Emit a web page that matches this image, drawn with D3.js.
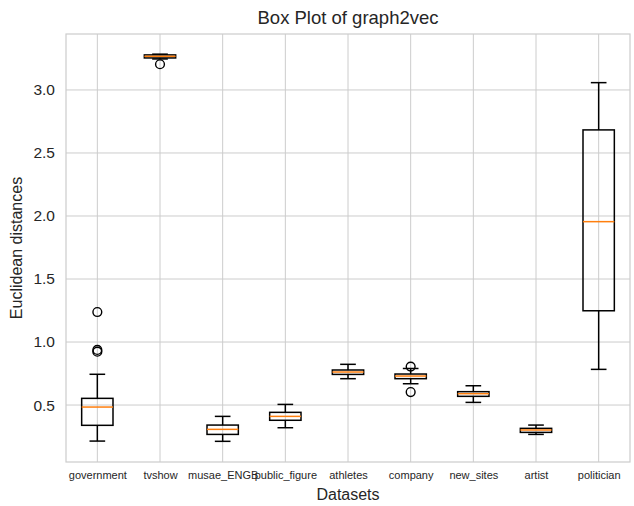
<!DOCTYPE html>
<html>
<head>
<meta charset="utf-8">
<script src="https://cdn.jsdelivr.net/npm/d3@7"></script>
<style>
  html, body { margin: 0; padding: 0; background: #fff; }
  svg { display: block; font-family: "Liberation Sans", Arial, sans-serif; }
</style>
</head>
<body>
<svg id="chart" width="634" height="506"></svg>
<script>
// Box statistics of Euclidean distances per dataset
const categories = ["government", "tvshow", "musae_ENGB", "public_figure", "athletes",
                    "company", "new_sites", "artist", "politician"];
const whiskerLow  = [0.214, 3.246, 0.212, 0.320, 0.709, 0.669, 0.521, 0.267, 0.783];
const q1          = [0.339, 3.254, 0.267, 0.379, 0.743, 0.709, 0.569, 0.283, 1.248];
const medians     = [0.484, 3.267, 0.307, 0.410, 0.762, 0.730, 0.590, 0.302, 1.955];
const q3          = [0.553, 3.278, 0.341, 0.442, 0.778, 0.746, 0.606, 0.315, 2.683];
const whiskerHigh = [0.744, 3.284, 0.410, 0.505, 0.823, 0.790, 0.653, 0.341, 3.058];
const outliers    = [[0.923, 0.937, 1.238], [3.204], [], [], [], [0.603, 0.805], [], [], []];
const yTicks = [0.5, 1.0, 1.5, 2.0, 2.5, 3.0];

const svg = d3.select("#chart");
const margin = { left: 66, right: 4, top: 34, bottom: 44 };
const W = 634, H = 506;
const plotW = W - margin.left - margin.right;
const plotH = H - margin.top - margin.bottom;

const x = d3.scaleLinear().domain([0.5, categories.length + 0.5]).range([margin.left, margin.left + plotW]);
const y = d3.scaleLinear().domain([0.048, 3.444]).range([margin.top + plotH, margin.top]);

const gridColor = "#cccccc";
const textColor = "#262626";
const g = svg.append("g");

// grid lines
g.append("g").selectAll("line.h").data(yTicks).join("line")
  .attr("x1", margin.left).attr("x2", margin.left + plotW)
  .attr("y1", d => y(d)).attr("y2", d => y(d))
  .attr("stroke", gridColor).attr("stroke-width", 1);
g.append("g").selectAll("line.v").data(categories).join("line")
  .attr("x1", (d, i) => x(i + 1)).attr("x2", (d, i) => x(i + 1))
  .attr("y1", margin.top).attr("y2", margin.top + plotH)
  .attr("stroke", gridColor).attr("stroke-width", 1);

// frame
g.append("rect")
  .attr("x", margin.left).attr("y", margin.top)
  .attr("width", plotW).attr("height", plotH)
  .attr("fill", "none").attr("stroke", gridColor).attr("stroke-width", 1.2);

// y axis labels
const yAxis = d3.axisLeft(y).tickValues(yTicks).tickFormat(d3.format(".1f")).tickSize(0).tickPadding(11);
const ya = svg.append("g").attr("transform", `translate(${margin.left},0)`).call(yAxis);
ya.select(".domain").remove();
ya.selectAll("text").attr("font-size", 15.5).attr("fill", textColor)
  .attr("font-family", "Liberation Sans, Arial, sans-serif");

// x axis labels
const xAxis = d3.axisBottom(x).tickValues(categories.map((d, i) => i + 1))
  .tickFormat((d, i) => categories[i]).tickSize(0).tickPadding(9);
const xa = svg.append("g").attr("transform", `translate(0,${margin.top + plotH})`).call(xAxis);
xa.select(".domain").remove();
xa.selectAll("text").attr("font-size", 11).attr("fill", textColor)
  .attr("font-family", "Liberation Sans, Arial, sans-serif");

// boxes
const boxHalf = (x(1.25) - x(1));
const capHalf = boxHalf / 2;
const lw = 1.5;
const boxes = g.append("g").selectAll("g.box").data(categories).join("g");
boxes.each(function(d, i) {
  const b = d3.select(this);
  const cx = x(i + 1);
  const stroke = "#000";
  // whiskers
  b.append("line").attr("x1", cx).attr("x2", cx).attr("y1", y(q1[i])).attr("y2", y(whiskerLow[i]))
    .attr("stroke", stroke).attr("stroke-width", lw);
  b.append("line").attr("x1", cx).attr("x2", cx).attr("y1", y(q3[i])).attr("y2", y(whiskerHigh[i]))
    .attr("stroke", stroke).attr("stroke-width", lw);
  // caps
  [whiskerLow[i], whiskerHigh[i]].forEach(v => {
    b.append("line").attr("x1", cx - capHalf).attr("x2", cx + capHalf).attr("y1", y(v)).attr("y2", y(v))
      .attr("stroke", stroke).attr("stroke-width", lw);
  });
  // box
  b.append("rect").attr("x", cx - boxHalf).attr("width", 2 * boxHalf)
    .attr("y", y(q3[i])).attr("height", y(q1[i]) - y(q3[i]))
    .attr("fill", "none").attr("stroke", stroke).attr("stroke-width", lw);
  // median
  b.append("line").attr("x1", cx - boxHalf).attr("x2", cx + boxHalf)
    .attr("y1", y(medians[i])).attr("y2", y(medians[i]))
    .attr("stroke", "#ff7f0e").attr("stroke-width", lw);
  // fliers
  b.selectAll("circle").data(outliers[i]).join("circle")
    .attr("cx", cx).attr("cy", v => y(v)).attr("r", 4.4)
    .attr("fill", "none").attr("stroke", stroke).attr("stroke-width", 1.4);
});

// titles
svg.append("text").attr("x", margin.left + plotW / 2).attr("y", 24)
  .attr("text-anchor", "middle").attr("font-size", 18.5).attr("fill", textColor)
  .text("Box Plot of graph2vec");
svg.append("text").attr("x", margin.left + plotW / 2).attr("y", 500)
  .attr("text-anchor", "middle").attr("font-size", 16).attr("fill", textColor)
  .text("Datasets");
svg.append("text").attr("transform", `translate(22,${margin.top + plotH / 2}) rotate(-90)`)
  .attr("text-anchor", "middle").attr("font-size", 16).attr("fill", textColor)
  .text("Euclidean distances");
</script>
</body>
</html>
